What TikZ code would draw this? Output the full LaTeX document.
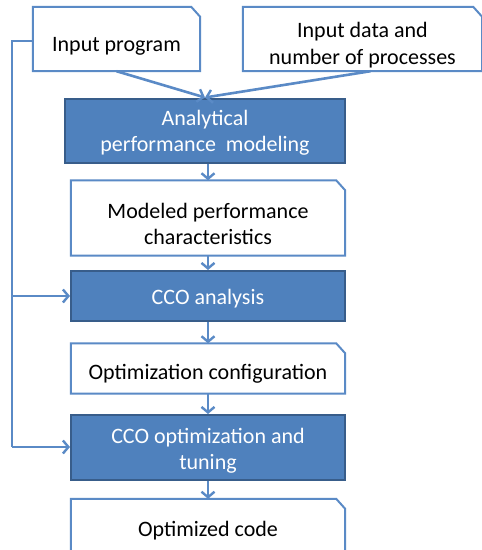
\documentclass[tikz,border=0pt]{standalone}
\usepackage{fontspec}
\setmainfont{Carlito}
\usetikzlibrary{arrows.meta}
\definecolor{lineblue}{HTML}{5A8AC6}
\definecolor{fillblue}{HTML}{4F81BD}
\definecolor{edgeblue}{HTML}{385D8A}
\begin{document}
\begin{tikzpicture}[x=1pt,y=-1pt,
  txt/.style={align=center,font=\fontsize{22}{26.5}\selectfont,inner sep=0pt},
  wbox/.style={fill=white,draw=none,inner sep=0pt},
  bbox/.style={fill=fillblue,draw=edgeblue,line width=2pt,inner sep=0pt},
  wt/.style={txt},
  bt/.style={txt,text=white},
  outline/.style={draw=lineblue,line width=2pt,line join=miter},
  link/.style={draw=lineblue,line width=2.6pt},
  conn/.style={link,-{Straight Barb[length=5.5pt,width=13pt,line width=2.4pt]}}]
\useasboundingbox (0,0) rectangle (482,550);
\clip (0,0) rectangle (482,550);
\fill[white] (0,0) rectangle (482,550);

\node[wbox,minimum width=167pt,minimum height=64pt,
  label={[wt,yshift=-7pt,name=inprogT]center:Input program}] (inprog) at (116.5,39) {};
\node[wbox,minimum width=239pt,minimum height=64pt,
  label={[wt,yshift=-6pt,name=indataT]center:Input data and\\number of processes}] (indata) at (362.5,39) {};
\node[bbox,minimum width=280pt,minimum height=64pt,
  label={[bt,yshift=-2pt,name=analT]center:Analytical\\performance\ \ modeling}] (anal) at (205,130.5) {};
\node[wbox,minimum width=274pt,minimum height=75pt,
  label={[wt,yshift=-6pt,name=modelT]center:Modeled performance\\characteristics}] (model) at (208,218) {};
\node[bbox,minimum width=274pt,minimum height=50pt,
  label={[bt,yshift=-2.5pt,name=ccoaT]center:CCO analysis}] (ccoa) at (208,296) {};
\node[wbox,minimum width=274pt,minimum height=50pt,
  label={[wt,yshift=-5.5pt,name=optconfT]center:Optimization configuration}] (optconf) at (208,368.5) {};
\node[bbox,minimum width=274pt,minimum height=65pt,
  label={[bt,yshift=-3pt,name=ccooptT]center:CCO optimization and\\tuning}] (ccoopt) at (208,447.5) {};
\node[wbox,minimum width=274pt,minimum height=56pt,
  label={[wt,yshift=-3.5pt,name=optcodeT]center:Optimized code}] (optcode) at (208,527) {};

\foreach \n in {inprog,indata,model,optconf,optcode}{
  \draw[outline] (\n.south west) -- (\n.north west) -- ([xshift=-9pt]\n.north east)
    -- ([yshift=-10pt]\n.north east) -- (\n.south east) -- cycle;
}

% input arrows
\draw[conn] (inprog.south) -- (anal.north);
\draw[conn] ([xshift=8pt]indata.south) -- (anal.north);
% vertical chain
\draw[conn] (anal.south -| model.north) -- (model.north);
\draw[conn] (model.south) -- (ccoa.north);
\draw[conn] (ccoa.south) -- (optconf.north);
\draw[conn] (optconf.south) -- (ccoopt.north);
\draw[conn] (ccoopt.south) -- (optcode.north);
% feedback bus
\coordinate (bustop) at (12,41);
\coordinate (busbot) at (12,447);
\draw[link,line join=miter] ([yshift=-2pt]inprog.west) -- (bustop) -- (busbot);
\draw[conn] (busbot) -- (busbot -| ccoopt.west);
\draw[conn] (bustop |- ccoa.west) -- (ccoa.west);
\end{tikzpicture}
\end{document}
